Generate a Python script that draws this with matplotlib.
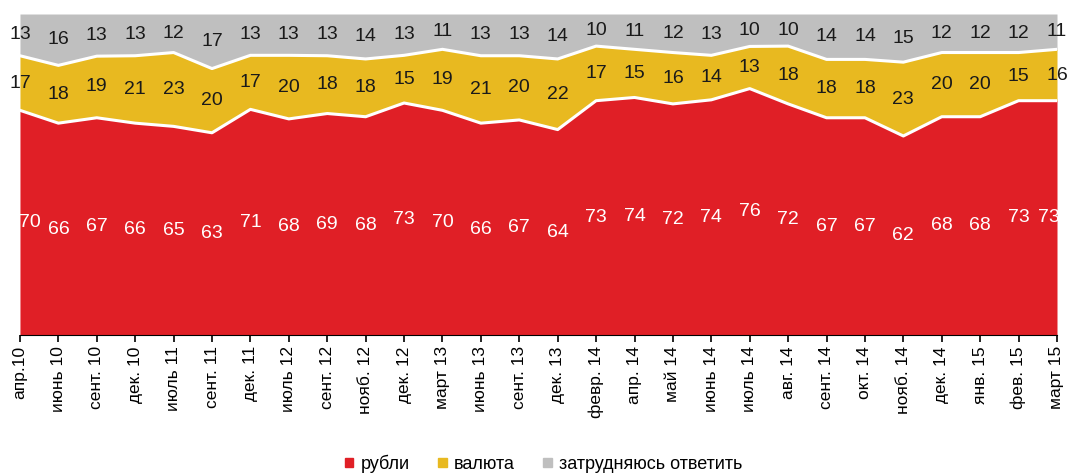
import numpy as np
import matplotlib
matplotlib.use("Agg")
import matplotlib.pyplot as plt
from matplotlib.patches import Patch

# survey: in which currency to keep savings
months = ["апр.10", "июнь 10", "сент. 10", "дек. 10", "июль 11", "сент. 11",
          "дек. 11", "июль 12", "сент. 12", "нояб. 12", "дек. 12", "март 13",
          "июнь 13", "сент. 13", "дек. 13", "февр. 14", "апр. 14", "май 14",
          "июнь 14", "июль 14", "авг. 14", "сент. 14", "окт. 14", "нояб. 14",
          "дек. 14", "янв. 15", "фев. 15", "март 15"]
rubles = [70, 66, 67, 66, 65, 63, 71, 68, 69, 68, 73, 70, 66, 67, 64,
          73, 74, 72, 74, 76, 72, 67, 67, 62, 68, 68, 73, 73]
currency = [17, 18, 19, 21, 23, 20, 17, 20, 18, 18, 15, 19, 21, 20, 22,
            17, 15, 16, 14, 13, 18, 18, 18, 23, 20, 20, 15, 16]
hard = [13, 16, 13, 13, 12, 17, 13, 13, 13, 14, 13, 11, 13, 13, 14,
        10, 11, 12, 13, 10, 10, 14, 14, 15, 12, 12, 12, 11]
series_names = ["рубли", "валюта", "затрудняюсь ответить"]
colors = ["#E01F26", "#E8B920", "#BFBFBF"]

plt.rcParams['font.family'] = ['Liberation Sans Narrow', 'Liberation Sans', 'DejaVu Sans']

data = np.array([rubles, currency, hard], dtype=float)
shares = data / data.sum(axis=0) * 100
x = np.arange(len(months))

fig = plt.figure(figsize=(10.68, 4.75), dpi=100)
ax = fig.add_axes([0.0187, 0.2947, 0.9710, 0.6758])

bottom = np.zeros(len(x))
for i in range(3):
    ax.fill_between(x, bottom, bottom + shares[i], color=colors[i], lw=0)
    mid = bottom + shares[i] / 2
    tcol = "white" if i == 0 else "#1a1a1a"
    for j in range(len(x)):
        xt = x[j]
        # white labels at the edges are nudged into the red area
        if i == 0 and j == 0:
            xt = x[j] + 0.27
        if i == 0 and j == len(x) - 1:
            xt = x[j] - 0.2
        ax.text(xt, mid[j], str(int(data[i, j])), ha="center", va="center",
                fontsize=14, color=tcol, clip_on=False)
    bottom = bottom + shares[i]
    if i < 2:
        ax.plot(x, bottom, color="white", lw=2.2)

ax.set_xlim(0, len(x) - 1)
ax.set_ylim(0, 100)
ax.set_yticks([])
for s in ["top", "right", "left"]:
    ax.spines[s].set_visible(False)
ax.spines["bottom"].set_color("black")
ax.set_xticks(x)
ax.set_xticklabels(months, rotation=90, fontsize=12.5)
ax.tick_params(axis="x", direction="out", length=5, width=1.2, pad=3)

handles = [Patch(color=c, label=n) for c, n in zip(colors, series_names)]
fig.legend(handles=handles, loc="lower center", ncol=3, frameon=False,
           fontsize=13, handlelength=0.45, handleheight=0.45, handletextpad=0.4,
           columnspacing=1.6, bbox_to_anchor=(0.509, -0.03))

fig.savefig("out.png", dpi=100)
